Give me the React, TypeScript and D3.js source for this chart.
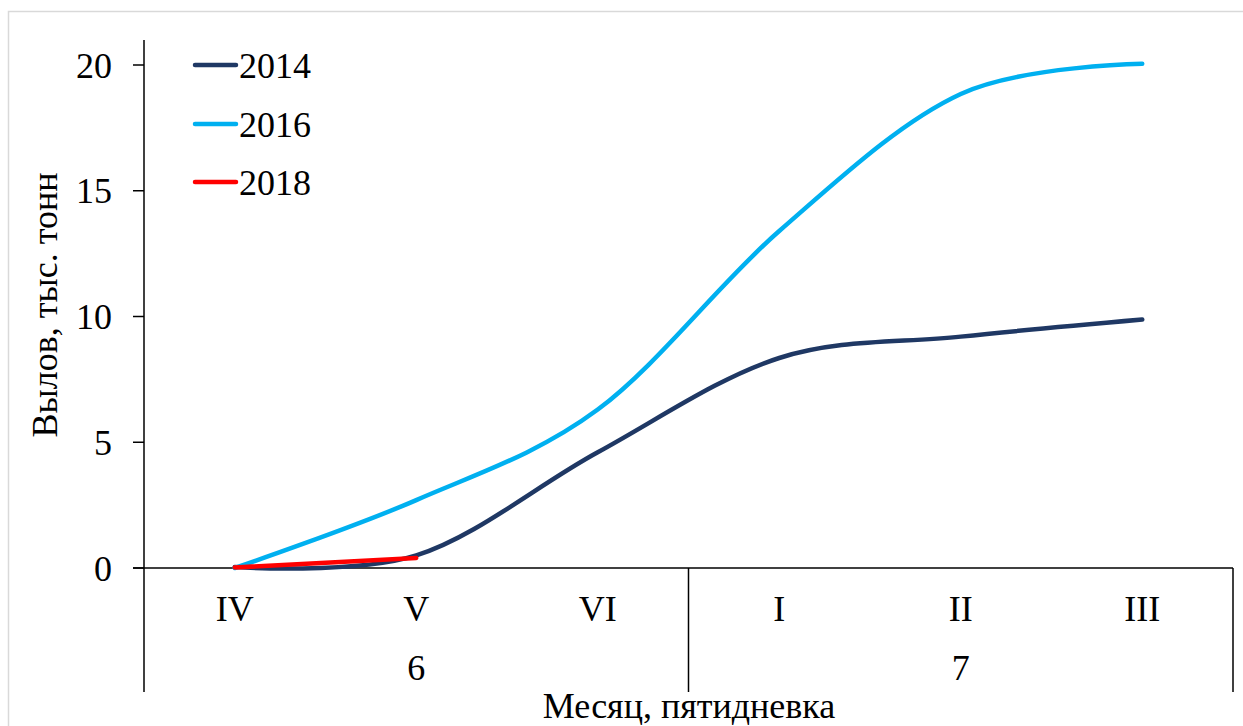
import React from "react";
import * as d3 from "d3";

const categories = ["IV", "V", "VI", "I", "II", "III"];
const months = [
  { label: "6", from: 0, to: 3 },
  { label: "7", from: 3, to: 6 },
];
const values2014 = [0.04, 0.5, 4.6, 8.35, 9.2, 9.88];
const values2016 = [0, 2.7, 6.3, 13.4, 18.85, 20.05];
const values2018 = [0.02, 0.4];
const yTicks = [0, 5, 10, 15, 20];

const series = [
  { name: "2014", values: values2014, color: "#1F3864" },
  { name: "2016", values: values2016, color: "#00B0F0" },
  { name: "2018", values: values2018, color: "#FF0000" },
];

const W = 1243;
const H = 726;
const FONT = "'Liberation Serif', 'Times New Roman', serif";

export default function App() {
  const left = 144;
  const right = 1233;
  const x = d3.scaleBand<string>().domain(categories).range([left, right]).padding(0);
  const y = d3.scaleLinear().domain([0, 20]).range([568, 65]);
  const axisTop = 40;
  const axisBottom = 692;
  const fs = 36;

  const line = d3
    .line<number>()
    .x((_, i) => (x(categories[i]) as number) + x.bandwidth() / 2)
    .y((d) => y(d))
    .curve(d3.curveCardinal.tension(0));

  const legendY = [65, 124, 182];

  return (
    <svg
      width={W}
      height={H}
      style={{ position: "absolute", left: 0, top: 0, display: "block", background: "#fff" }}
      fontFamily={FONT}
    >
      <rect x={8.5} y={11.5} width={W} height={H} fill="#fff" stroke="#d9d9d9" strokeWidth={1.5} />

      {/* Y axis */}
      <line x1={left} x2={left} y1={axisTop} y2={axisBottom} stroke="#000" strokeWidth={1.5} />
      {yTicks.map((t) => (
        <g key={t}>
          <line x1={left - 11} x2={left} y1={y(t)} y2={y(t)} stroke="#000" strokeWidth={1.5} />
          <text x={112} y={y(t)} dy="0.35em" textAnchor="end" fontSize={fs} fill="#000">
            {t}
          </text>
        </g>
      ))}

      {/* X axis */}
      <line x1={left - 11} x2={right} y1={y(0)} y2={y(0)} stroke="#000" strokeWidth={1.5} />
      <line x1={right} x2={right} y1={y(0)} y2={axisBottom} stroke="#000" strokeWidth={1.5} />
      {months.map((m, i) =>
        i > 0 ? (
          <line
            key={"d" + i}
            x1={x(categories[m.from]) as number}
            x2={x(categories[m.from]) as number}
            y1={y(0)}
            y2={axisBottom}
            stroke="#000"
            strokeWidth={1.5}
          />
        ) : null
      )}
      {categories.map((c) => (
        <text
          key={c}
          x={(x(c) as number) + x.bandwidth() / 2}
          y={621}
          textAnchor="middle"
          fontSize={fs}
          fill="#000"
        >
          {c}
        </text>
      ))}
      {months.map((m) => {
        const x0 = x(categories[m.from]) as number;
        const x1 = (x(categories[m.to - 1]) as number) + x.bandwidth();
        return (
          <text key={m.label} x={(x0 + x1) / 2} y={680} textAnchor="middle" fontSize={fs} fill="#000">
            {m.label}
          </text>
        );
      })}

      {/* Axis titles */}
      <text x={689} y={718} textAnchor="middle" fontSize={fs} fill="#000">
        Месяц, пятидневка
      </text>
      <text
        transform={`translate(57, 305) rotate(-90)`}
        textAnchor="middle"
        fontSize={fs}
        fill="#000"
      >
        Вылов, тыс. тонн
      </text>

      {/* Series */}
      {series.map((s) => (
        <path
          key={s.name}
          d={line(s.values) as string}
          fill="none"
          stroke={s.color}
          strokeWidth={4.5}
          strokeLinecap="round"
          strokeLinejoin="round"
        />
      ))}

      {/* Legend */}
      {series.map((s, i) => (
        <g key={"lg" + s.name}>
          <line x1={195} x2={236} y1={legendY[i]} y2={legendY[i]} stroke={s.color} strokeWidth={4.5} strokeLinecap="round" />
          <text x={239} y={legendY[i]} dy="0.35em" fontSize={fs} fill="#000">
            {s.name}
          </text>
        </g>
      ))}
    </svg>
  );
}
